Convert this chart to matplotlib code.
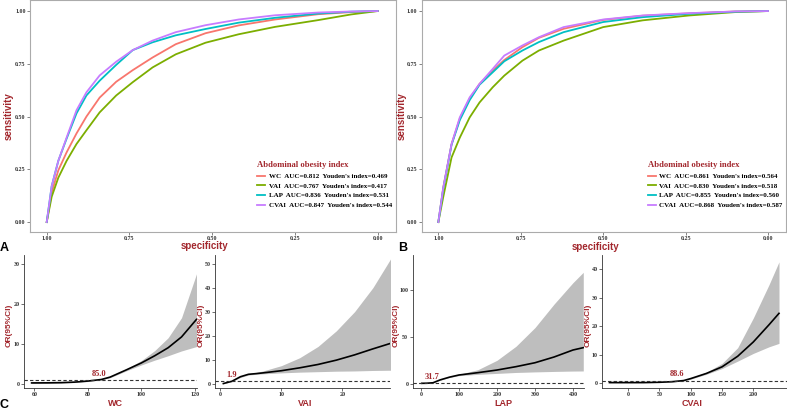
import matplotlib
matplotlib.use("Agg")
import matplotlib.pyplot as plt

# ---- ROC data ----
names = ["WC", "VAI", "LAP", "CVAI"]
colors = ["#F8766D", "#7CAE00", "#00BFC4", "#C77CFF"]

auc_all = [0.812, 0.767, 0.836, 0.847]
youden_all = [0.469, 0.417, 0.531, 0.544]
auc_b = [0.861, 0.830, 0.855, 0.868]
youden_b = [0.564, 0.518, 0.560, 0.587]

spec_a = [1.0, 0.985, 0.965, 0.94, 0.91, 0.88, 0.84, 0.79, 0.74, 0.68, 0.61, 0.52, 0.42, 0.31, 0.18, 0.08, 0.0]
sens_a = {
    "WC":   [0, 0.14, 0.245, 0.33, 0.42, 0.50, 0.59, 0.665, 0.72, 0.78, 0.843, 0.895, 0.932, 0.96, 0.985, 0.995, 1.0],
    "VAI":  [0, 0.12, 0.21, 0.29, 0.37, 0.435, 0.52, 0.60, 0.663, 0.733, 0.795, 0.85, 0.89, 0.925, 0.957, 0.984, 1.0],
    "LAP":  [0, 0.17, 0.29, 0.395, 0.515, 0.60, 0.67, 0.745, 0.815, 0.852, 0.885, 0.915, 0.945, 0.968, 0.988, 0.997, 1.0],
    "CVAI": [0, 0.17, 0.29, 0.40, 0.53, 0.615, 0.695, 0.76, 0.815, 0.86, 0.90, 0.933, 0.96, 0.98, 0.993, 0.998, 1.0],
}

spec_b = [1.0, 0.985, 0.96, 0.935, 0.905, 0.875, 0.835, 0.80, 0.745, 0.695, 0.62, 0.50, 0.38, 0.24, 0.10, 0.0]
sens_b = {
    "WC":   [0, 0.165, 0.369, 0.49, 0.585, 0.655, 0.718, 0.768, 0.829, 0.873, 0.916, 0.958, 0.978, 0.989, 0.998, 1.0],
    "VAI":  [0, 0.12, 0.306, 0.40, 0.496, 0.567, 0.639, 0.694, 0.765, 0.813, 0.86, 0.924, 0.956, 0.979, 0.995, 1.0],
    "LAP":  [0, 0.16, 0.366, 0.483, 0.578, 0.651, 0.71, 0.762, 0.813, 0.853, 0.90, 0.948, 0.971, 0.987, 0.997, 1.0],
    "CVAI": [0, 0.163, 0.369, 0.496, 0.591, 0.655, 0.726, 0.789, 0.837, 0.876, 0.924, 0.960, 0.979, 0.990, 0.998, 1.0],
}

# ---- restricted cubic spline OR curves ----
wc_x = [59, 65, 70, 75, 80, 85, 88.3, 94.5, 100, 105, 110, 115, 120.6]
wc_or = [0.2, 0.22, 0.27, 0.4, 0.67, 1.05, 1.65, 3.5, 5.2, 7.0, 9.0, 11.7, 16.1]
wc_lo = [0.1, 0.12, 0.17, 0.3, 0.55, 0.95, 1.5, 3.25, 4.7, 5.9, 7.0, 8.2, 9.3]
wc_hi = [0.35, 0.35, 0.38, 0.5, 0.8, 1.15, 1.8, 3.75, 5.8, 8.3, 11.5, 16.5, 27.5]

vai_x = [0.5, 1, 1.9, 3.3, 4.6, 5.9, 7, 10, 13, 16, 19, 22, 25, 27.9]
vai_or = [0.05, 0.4, 1.0, 2.9, 3.9, 4.2, 4.5, 5.4, 6.6, 8.0, 9.8, 12.0, 14.5, 16.8]
vai_lo = [0.02, 0.3, 0.85, 2.6, 3.6, 3.9, 4.1, 4.5, 4.8, 5.0, 5.2, 5.3, 5.5, 5.6]
vai_hi = [0.1, 0.55, 1.15, 3.2, 4.2, 4.7, 5.3, 7.5, 10.8, 15.5, 22, 30, 40, 52]

lap_x = [2, 15, 31.7, 50, 75, 100, 150, 200, 250, 300, 350, 400, 427]
lap_or = [0.4, 0.5, 1.0, 4.0, 7.0, 9.3, 11.8, 14.6, 18.2, 22.4, 28.5, 36, 38.5]
lap_lo = [0.25, 0.4, 0.9, 3.7, 6.6, 8.6, 10.0, 11.0, 12.0, 12.6, 13.1, 13.5, 13.6]
lap_hi = [0.55, 0.6, 1.1, 4.3, 7.4, 10.0, 15.0, 25, 40, 60, 85, 108, 119]

cvai_x = [-30, 0, 25, 50, 70, 88.6, 100, 125, 150, 175, 200, 225, 241]
cvai_or = [0.3, 0.3, 0.3, 0.4, 0.6, 1.0, 1.7, 3.5, 5.8, 9.5, 14.5, 20.5, 24.5]
cvai_lo = [0.2, 0.2, 0.25, 0.35, 0.5, 0.9, 1.5, 3.2, 5.2, 7.8, 10.5, 12.8, 14.0]
cvai_hi = [0.45, 0.4, 0.38, 0.48, 0.7, 1.1, 1.9, 3.9, 7.0, 12.5, 22.9, 34.5, 42.5]

cutoffs = [85.0, 1.9, 31.7, 88.6]

RED = "#A3282E"
W, H = 787, 411


def px_axes(fig, x0, y0, x1, y1):
    return fig.add_axes([x0 / W, 1 - y1 / H, (x1 - x0) / W, (y1 - y0) / H])


def tick_style(ax):
    for lab in ax.get_xticklabels() + ax.get_yticklabels():
        lab.set_family("Liberation Serif")
        lab.set_fontweight("bold")
        lab.set_fontsize(4.3)
        lab.set_color("#333333")


def place_labels(ax, xlab_pos, ylab_pos):
    ax.xaxis.label.set_va("center")
    ax.yaxis.label.set_va("center")
    ax.xaxis.set_label_coords(*xlab_pos)
    ax.yaxis.set_label_coords(*ylab_pos)


def roc_panel(ax, spec, sens, aucs, youdens, xlab_pos, ylab_pos):
    for i, (name, col) in enumerate(zip(names, colors)):
        ax.plot(spec, sens[name], color=col, lw=1.3,
                label=f"{name}  AUC={aucs[i]:.3f}  Youden's index={youdens[i]:.3f}")
    ax.set_xlim(1.0505, -0.0545)
    ax.set_ylim(-0.047, 1.05)
    ax.set_xticks([1.0, 0.75, 0.5, 0.25, 0.0])
    ax.set_yticks([0.0, 0.25, 0.5, 0.75, 1.0])
    ax.set_xticklabels(["1.00", "0.75", "0.50", "0.25", "0.00"])
    ax.set_yticklabels(["0.00", "0.25", "0.50", "0.75", "1.00"])
    for s in ax.spines.values():
        s.set_color("#ABABAB")
        s.set_linewidth(0.8)
    ax.tick_params(length=2, width=0.5, color="#555555", pad=1.2)
    tick_style(ax)
    ax.set_xlabel("specificity", family="Liberation Sans", fontweight="bold",
                  fontsize=7, color=RED)
    ax.set_ylabel("sensitivity", family="Liberation Sans", fontweight="bold",
                  fontsize=7, color=RED)
    place_labels(ax, xlab_pos, ylab_pos)
    leg = ax.legend(loc="upper left", bbox_to_anchor=(0.622, 0.305), frameon=False,
                    title="Abdominal obesity index", alignment="left",
                    prop={"family": "Liberation Serif", "weight": "bold", "size": 5},
                    handlelength=1.1, handletextpad=0.5, labelspacing=0.55,
                    borderpad=0, borderaxespad=0)
    t = leg.get_title()
    t.set_family("Liberation Serif")
    t.set_fontweight("bold")
    t.set_fontsize(6.2)
    t.set_color(RED)


def rcs_panel(ax, x, orv, lo, hi, cut, xlabel, xlim, ylim, xticks, yticks, dx,
              xlab_pos, ylab_pos):
    ax.fill_between(x, lo, hi, color="#BEBEBE", lw=0)
    ax.plot(x, orv, color="black", lw=1.2)
    ax.axhline(1, color="#333333", lw=0.8, ls=(0, (3, 2)))
    ax.annotate(f"{cut:.1f}", xy=(cut, 1), xytext=(dx, 1.5), textcoords="offset points",
                ha="center", va="bottom", color=RED, fontsize=6,
                family="Liberation Serif", fontweight="bold")
    ax.set_xlim(*xlim)
    ax.set_ylim(*ylim)
    ax.set_xticks(xticks)
    ax.set_yticks(yticks)
    for side in ["top", "right"]:
        ax.spines[side].set_visible(False)
    for side in ["left", "bottom"]:
        ax.spines[side].set_color("#333333")
        ax.spines[side].set_linewidth(0.6)
    ax.tick_params(length=2, width=0.5, color="#333333", pad=1.2)
    tick_style(ax)
    ax.set_xlabel(xlabel, family="Liberation Sans", fontweight="bold",
                  fontsize=6.5, color=RED)
    ax.set_ylabel("OR(95%CI)", family="Liberation Sans", fontweight="bold",
                  fontsize=6, color=RED)
    place_labels(ax, xlab_pos, ylab_pos)


fig = plt.figure(figsize=(7.87, 4.11), dpi=100)

ax1 = px_axes(fig, 30, 0.5, 395.7, 232)
roc_panel(ax1, spec_a, sens_a, auc_all, youden_all, (0.476, -0.062), (-0.058, 0.5))
ax2 = px_axes(fig, 421.7, 0.5, 786, 232)
roc_panel(ax2, spec_b, sens_b, auc_b, youden_b, (0.478, -0.064), (-0.055, 0.5))

ax3 = px_axes(fig, 24, 255, 196.5, 388)
rcs_panel(ax3, wc_x, wc_or, wc_lo, wc_hi, cutoffs[0], "WC",
          (56.15, 120.6), (-1.07, 32.2), [60, 80, 100, 120], [0, 10, 20, 30], -1.5,
          (0.53, -0.115), (-0.085, 0.47))
ax4 = px_axes(fig, 215, 255, 390, 388)
rcs_panel(ax4, vai_x, vai_or, vai_lo, vai_hi, cutoffs[1], "VAI",
          (-0.87, 27.8), (-1.8, 53.6), [0, 10, 20], [0, 10, 20, 30, 40, 50], 0,
          (0.514, -0.115), (-0.08, 0.47))
ax5 = px_axes(fig, 412.7, 255, 583.5, 388)
rcs_panel(ax5, lap_x, lap_or, lap_lo, lap_hi, cutoffs[2], "LAP",
          (-21.8, 427.6), (-4.6, 137.5), [0, 100, 200, 300, 400], [0, 50, 100], -1,
          (0.53, -0.115), (-0.098, 0.47))
ax6 = px_axes(fig, 602, 255, 786.5, 388)
rcs_panel(ax6, cvai_x, cvai_or, cvai_lo, cvai_hi, cutoffs[3], "CVAI",
          (-41.9, 253), (-1.6, 44.9), [0, 50, 100, 150, 200], [0, 10, 20, 30, 40], -5,
          (0.49, -0.115), (-0.074, 0.47))

for letter, (x, y) in zip(["A", "B", "C"], [(4, 248), (403, 248), (4, 405)]):
    fig.text(x / W, 1 - y / H, letter, fontsize=9, fontweight="bold",
             family="Liberation Sans", ha="center", va="center")

fig.savefig("out.png", dpi=100)
